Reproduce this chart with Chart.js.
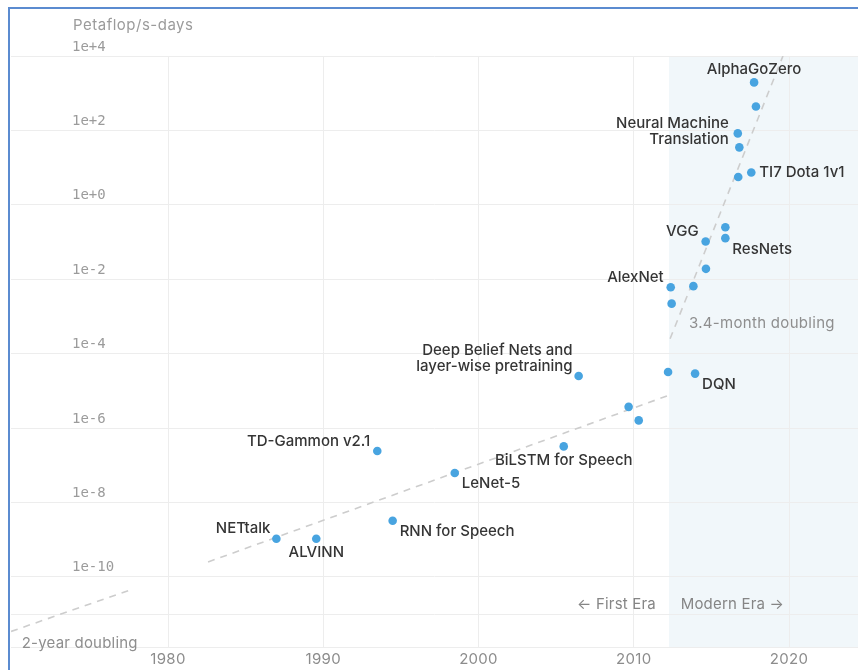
<!DOCTYPE html>
<html>
<head>
<meta charset="utf-8">
<script src="https://cdn.jsdelivr.net/npm/chart.js@4/dist/chart.umd.min.js"></script>
<style>
  html, body { margin: 0; padding: 0; background: #fff; }
  #wrap { position: relative; width: 858px; height: 670px; overflow: hidden; }
  #frame { position: absolute; left: 8px; top: 7px; right: -4px; bottom: -4px;
           border-left: 2px solid #5b8bd0; border-top: 2px solid #5b8bd0; pointer-events: none; }
  canvas { display: block; }
</style>
</head>
<body>
<div id="wrap">
  <canvas id="c" width="858" height="670"></canvas>
  <div id="frame"></div>
</div>
<script>
// Training compute of landmark AI systems (petaflop/s-days), by publication year.
const modelNames = [
  'NETtalk', 'ALVINN', 'RNN for Speech', 'TD-Gammon v2.1', 'LeNet-5',
  'BiLSTM for Speech', 'Deep Belief Nets and\nlayer-wise pretraining', '', '', '',
  'DQN', 'AlexNet', '', '', 'VGG', '', 'ResNets', '', '', 'TI7 Dota 1v1',
  'Neural Machine\nTranslation', '', '', 'AlphaGoZero'
];
const modelYears = [
  1986.98, 1989.55, 1994.47, 1993.48, 1998.47,
  2005.49, 2006.45, 2009.67, 2010.32, 2012.21,
  2013.95, 2012.38, 2012.44, 2013.84, 2014.63, 2014.65, 2015.90, 2015.90, 2016.73, 2017.57,
  2016.70, 2016.80, 2017.87, 2017.75
];
const modelCompute = [
  1.05e-9, 1.05e-9, 3.2e-9, 2.4e-7, 6.2e-8,
  3.2e-7, 2.5e-5, 3.7e-6, 1.6e-6, 3.2e-5,
  2.9e-5, 6.1e-3, 2.2e-3, 6.5e-3, 0.103, 0.019, 0.127, 0.25, 5.6, 7.4,
  83, 35, 440, 1950
];

// Dashed trend lines; the null entry leaves a break in the first one.
const twoYearTrendYears  = [1969.89, 1977.75, 1980.0, 1982.58, 2012.34];
const twoYearTrendValues = [3.4e-12, 4.7e-11, null, 2.5e-10, 7.8e-6];
const fastTrendYears  = [2012.34, 2019.61];
const fastTrendValues = [2.5e-4, 1e4];

// Axis ticks
const xTickYears = [1980, 1990, 2000, 2010, 2020];
const yTickExponents = [-10, -8, -6, -4, -2, 0, 2, 4];
const yGridExponents = [-11, -10, -8, -6, -4, -2, 0, 2, 4];

// Start of the modern era band
const modernEraStart = 2012.27;

// How each point's caption sits next to its dot
const labelPlacement = {
  'AlphaGoZero':            { dx: 0,  dy: -13, align: 'center' },
  'Neural Machine\nTranslation': { dx: -9, dy: -10, align: 'right' },
  'TI7 Dota 1v1':           { dx: 8,  dy: 0,   align: 'left' },
  'VGG':                    { dx: -7, dy: -10, align: 'right' },
  'ResNets':                { dx: 7,  dy: 11,  align: 'left' },
  'AlexNet':                { dx: -7, dy: -10, align: 'right' },
  'DQN':                    { dx: 7,  dy: 11,  align: 'left' },
  'Deep Belief Nets and\nlayer-wise pretraining': { dx: -6, dy: -26, align: 'right' },
  'TD-Gammon v2.1':         { dx: -7, dy: -10, align: 'right' },
  'BiLSTM for Speech':      { dx: 0,  dy: 14,  align: 'center' },
  'LeNet-5':                { dx: 7,  dy: 11,  align: 'left' },
  'NETtalk':                { dx: -6, dy: -10, align: 'right' },
  'ALVINN':                 { dx: 0,  dy: 14,  align: 'center' },
  'RNN for Speech':         { dx: 7,  dy: 11,  align: 'left' }
};

const GRID = '#ededed';
const DOT = '#48a4e0';
const TREND = '#cdcdcd';

function drawText(ctx, text, x, y, font, color, align, spacing) {
  ctx.save();
  ctx.font = font;
  ctx.fillStyle = color;
  ctx.textBaseline = 'middle';
  ctx.textAlign = align;
  ctx.letterSpacing = spacing || '0px';
  ctx.fillText(text, x, y);
  ctx.restore();
}

const eraBand = {
  id: 'eraBand',
  beforeDraw(chart) {
    const { ctx, chartArea, scales: { x } } = chart;
    const left = x.getPixelForValue(modernEraStart);
    ctx.save();
    ctx.fillStyle = '#f1f7fa';
    ctx.fillRect(left, chartArea.top, chartArea.right - left, chartArea.bottom - chartArea.top);
    ctx.restore();
  }
};

const captions = {
  id: 'captions',
  afterDatasetsDraw(chart) {
    const { ctx, chartArea, scales: { x, y } } = chart;
    const tickFont = '14px "DejaVu Sans Mono"';
    const labelFont = '500 15px Inter';
    const noteFont = '15px Inter';

    // unit title and y tick labels
    drawText(ctx, 'Petaflop/s-days', chartArea.left + 62, chartArea.top - 31, noteFont, '#9b9b9b', 'left', '0.5px');
    yTickExponents.forEach(e => {
      const txt = '1e' + (e >= 0 ? '+' : '-') + Math.abs(e);
      drawText(ctx, txt, chartArea.left + 61, y.getPixelForValue(Math.pow(10, e)) - 9, tickFont, '#9b9b9b', 'left');
    });
    // x tick labels
    xTickYears.forEach(v => {
      drawText(ctx, String(v), x.getPixelForValue(v), chartArea.bottom + 12, '15px Inter', '#8c8c8c', 'center', '0.3px');
    });

    // trend and era notes
    drawText(ctx, '3.4-month doubling', x.getPixelForValue(2013.56), y.getPixelForValue(Math.pow(10, -3.2)), noteFont, '#8e8e8e', 'left', '0.3px');
    drawText(ctx, '2-year doubling', x.getPixelForValue(1970.58), y.getPixelForValue(Math.pow(10, -11.8)), noteFont, '#8e8e8e', 'left', '0.2px');
    drawText(ctx, '\u2190 First Era', x.getPixelForValue(2011.43), y.getPixelForValue(Math.pow(10, -10.75)), noteFont, '#858585', 'right', '0.2px');
    drawText(ctx, 'Modern Era \u2192', x.getPixelForValue(2013.02), y.getPixelForValue(Math.pow(10, -10.75)), noteFont, '#858585', 'left', '0.2px');

    // point captions
    modelNames.forEach((name, i) => {
      if (!name) return;
      const p = labelPlacement[name];
      const px = x.getPixelForValue(modelYears[i]);
      const py = y.getPixelForValue(modelCompute[i]);
      name.split('\n').forEach((line, k) => {
        drawText(ctx, line, px + p.dx, py + p.dy + k * 16, labelFont, '#353535', p.align);
      });
    });
  }
};

new Chart(document.getElementById('c'), {
  type: 'scatter',
  data: {
    datasets: [
      {
        data: modelYears.map((yr, i) => ({ x: yr, y: modelCompute[i] })),
        backgroundColor: DOT,
        borderWidth: 0,
        pointRadius: 4.3,
        order: 0
      },
      {
        data: twoYearTrendYears.map((yr, i) => ({ x: yr, y: twoYearTrendValues[i] })),
        showLine: true,
        spanGaps: false,
        borderColor: TREND,
        borderWidth: 1.6,
        borderDash: [7, 6],
        pointRadius: 0,
        order: 1
      },
      {
        data: fastTrendYears.map((yr, i) => ({ x: yr, y: fastTrendValues[i] })),
        showLine: true,
        borderColor: TREND,
        borderWidth: 1.6,
        borderDash: [7, 6],
        pointRadius: 0,
        order: 1
      }
    ]
  },
  options: {
    responsive: false,
    animation: false,
    devicePixelRatio: 1,
    layout: { autoPadding: false, padding: { left: 11, top: 56, right: 0, bottom: 23 } },
    plugins: { legend: { display: false }, tooltip: { enabled: false } },
    scales: {
      x: {
        type: 'linear',
        min: 1969.887,
        max: 2024.444,
        bounds: 'data',
        afterBuildTicks: s => { s.ticks = xTickYears.map(v => ({ value: v })); },
        ticks: { display: false },
        grid: { color: GRID, drawTicks: false },
        border: { display: true, color: GRID }
      },
      y: {
        type: 'logarithmic',
        min: Math.pow(10, -11.887),
        max: 1e4,
        bounds: 'data',
        afterBuildTicks: s => { s.ticks = yGridExponents.map(e => ({ value: Math.pow(10, e) })); },
        ticks: { display: false },
        grid: { color: GRID, drawTicks: false },
        border: { display: false }
      }
    }
  },
  plugins: [eraBand, captions]
});
</script>
</body>
</html>
